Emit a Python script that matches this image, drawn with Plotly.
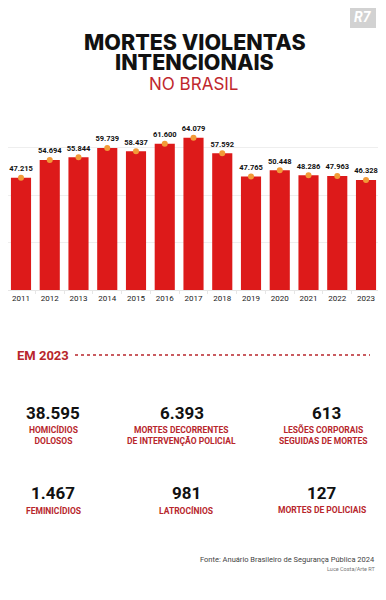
import plotly.graph_objects as go

years = ["2011", "2012", "2013", "2014", "2015", "2016", "2017", "2018", "2019", "2020", "2021", "2022", "2023"]
values = [47215, 54694, 55844, 59739, 58437, 61600, 64079, 57592, 47765, 50448, 48286, 47963, 46328]
value_labels = ["47.215", "54.694", "55.844", "59.739", "58.437", "61.600", "64.079", "57.592", "47.765", "50.448", "48.286", "47.963", "46.328"]

stat_numbers = ["38.595", "6.393", "613", "1.467", "981", "127"]
stat_labels = ["HOMICÍDIOS<br>DOLOSOS", "MORTES DECORRENTES<br>DE INTERVENÇÃO POLICIAL",
               "LESÕES CORPORAIS<br>SEGUIDAS DE MORTES", "FEMINICÍDIOS", "LATROCÍNIOS",
               "MORTES DE POLICIAIS"]

# page offset (browser body margin); visible width is the body content box
OFF = 8
W, H = 386 - 2 * OFF, 570
ML, MR = 0, 0
MT = 100 - OFF
MB = H - (290 - OFF)

def px(x):
    return (x - OFF - ML) / (W - ML - MR)

def py(y):
    return (H - MB - (y - OFF)) / (H - MT - MB)

RED = "#DD1A1A"
DARKRED = "#B8262C"
COND = "Liberation Sans Narrow, Roboto, sans-serif"

fig = go.Figure()
fig.add_trace(go.Bar(x=years, y=values, marker=dict(color=RED, line=dict(width=0)),
                     hoverinfo="skip"))
fig.add_trace(go.Scatter(x=years, y=values, mode="markers+text", text=value_labels,
                         textposition="top center", cliponaxis=False,
                         textfont=dict(family=COND, size=7.5, color="#111", weight="bold"),
                         marker=dict(color="#F29B38", size=6), hoverinfo="skip"))

ann = []
ann.append(dict(x=px(195), y=py(42), text="MORTES VIOLENTAS", font=dict(family="Inter", size=21.5, color="#111", weight=800)))
ann.append(dict(x=px(195), y=py(62), text="INTENCIONAIS", font=dict(family="Inter", size=21.5, color="#111", weight=800)))
ann.append(dict(x=px(193), y=py(84), text="NO BRASIL", font=dict(family="Inter", size=17, color="#C0272D")))
ann.append(dict(x=px(363), y=py(17), text="<b><i>R7</i></b>", font=dict(family="Roboto", size=14, color="white")))
ann.append(dict(x=px(15), y=py(355), text="EM 2023", xanchor="left", font=dict(family="Roboto", size=13, color=DARKRED, weight="bold")))

num_pos = [(53, 413), (182, 413), (326, 413), (53, 493), (186, 493), (322, 493)]
lab_pos = [(53, 435), (181, 435), (323, 435), (53, 510), (186, 510), (322, 510)]
for n, l, (nx, ny), (lx, ly) in zip(stat_numbers, stat_labels, num_pos, lab_pos):
    ann.append(dict(x=px(nx), y=py(ny), text=n, font=dict(family="Roboto", size=17, color="#111", weight="bold")))
    ann.append(dict(x=px(lx), y=py(ly), text=l, font=dict(family="Roboto", size=8.5, color=DARKRED, weight="bold")))

ann.append(dict(x=px(377), y=py(559), text="Fonte: Anuário Brasileiro de Segurança Pública 2024", xanchor="right",
                font=dict(family="Roboto", size=7.5, color="#444")))
ann.append(dict(x=px(377), y=py(569), text="Luce Costa/Arte RT", xanchor="right",
                font=dict(family="Roboto", size=5.5, color="#777")))

for a in ann:
    a.setdefault("xanchor", "center")
    a.update(xref="paper", yref="paper", yanchor="middle", showarrow=False)

shapes = [
    dict(type="line", xref="paper", yref="paper", x0=px(75), x1=px(370), y0=py(355), y1=py(355),
         line=dict(color=DARKRED, width=1.5, dash="dot")),
    dict(type="rect", xref="paper", yref="paper", x0=px(350), x1=px(376), y0=py(6), y1=py(28),
         fillcolor="#D2D2D2", line=dict(width=0), layer="below"),
]

fig.update_layout(
    width=W, height=H, margin=dict(l=ML, r=MR, t=MT, b=MB, autoexpand=False),
    paper_bgcolor="white", plot_bgcolor="white",
    showlegend=False, bargap=0.30,
    annotations=ann, shapes=shapes,
    xaxis=dict(tickfont=dict(family=COND, size=8, color="#222"), showgrid=False,
               range=[-0.452, 12.417], automargin=False,
               showline=True, linecolor="#E6E6E6", ticks="outside", ticklen=3, tickcolor="#E6E6E6",
               tickson="boundaries", fixedrange=True),
    yaxis=dict(range=[0, 80000], dtick=20000, showticklabels=False, gridcolor="#EEEEEE",
               zeroline=False, fixedrange=True, automargin=False),
)

fig.write_html("out.html")
